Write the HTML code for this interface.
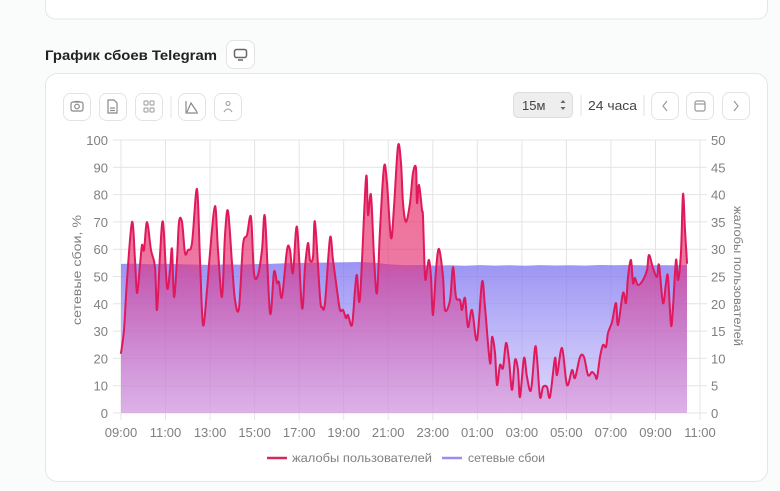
<!DOCTYPE html>
<html><head><meta charset="utf-8"><style>
html,body{margin:0;padding:0;background:#fafbfb;}
svg{display:block;font-family:"Liberation Sans","DejaVu Sans",sans-serif;}
</style></head><body>
<svg id="chart" width="780" height="491" viewBox="0 0 780 491" xmlns="http://www.w3.org/2000/svg">
<defs>
<linearGradient id="gb" x1="0" y1="263" x2="0" y2="413" gradientUnits="userSpaceOnUse">
<stop offset="0" stop-color="rgb(125,115,240)" stop-opacity="0.76"/>
<stop offset="1" stop-color="rgb(200,190,250)" stop-opacity="0.6"/>
</linearGradient>
<linearGradient id="gr" x1="0" y1="140" x2="0" y2="413" gradientUnits="userSpaceOnUse">
<stop offset="0" stop-color="rgb(232,52,100)" stop-opacity="0.72"/>
<stop offset="0.45" stop-color="rgb(228,50,115)" stop-opacity="0.66"/>
<stop offset="0.5" stop-color="rgb(225,45,128)" stop-opacity="0.56"/>
<stop offset="1" stop-color="rgb(215,90,185)" stop-opacity="0.3"/>
</linearGradient>
</defs>
<rect x="0" y="0" width="780" height="491" fill="#fafbfb"/>
<!-- top card remnant -->
<rect x="45.5" y="-30" width="722" height="49" rx="10" fill="#fff" stroke="#e4e6e6"/>
<!-- title -->
<text x="45" y="60" font-size="14" font-weight="bold" fill="#222" textLength="172" lengthAdjust="spacingAndGlyphs">График сбоев Telegram</text>
<rect x="226.5" y="40.5" width="28" height="28" rx="7" fill="#fff" stroke="#e2e4e4"/>
<rect x="234.5" y="49.5" width="12" height="8" rx="2" fill="none" stroke="#666" stroke-width="1.5"/>
<line x1="238" y1="60" x2="243" y2="60" stroke="#666" stroke-width="1.5"/>
<!-- main card -->
<rect x="45.5" y="73.5" width="722" height="408" rx="12" fill="#fff" stroke="#e4e6e6"/>
<!-- toolbar left -->
<g fill="#fff" stroke="#e2e4e4">
<rect x="63.5" y="93.5" width="27" height="27" rx="7"/>
<rect x="99.5" y="93.5" width="27" height="27" rx="7"/>
<rect x="135.5" y="93.5" width="27" height="27" rx="7"/>
<rect x="178.5" y="93.5" width="27" height="27" rx="7"/>
<rect x="214.5" y="93.5" width="27" height="27" rx="7"/>
</g>
<line x1="171" y1="96" x2="171" y2="118" stroke="#e4e4e4"/>
<g fill="none" stroke="#888" stroke-width="1.2">
<rect x="71" y="102" width="12" height="9" rx="2"/><circle cx="77" cy="106.5" r="2.3"/><line x1="74.5" y1="101.5" x2="79.5" y2="101.5"/>
<path d="M108 100 h6 l3 3 v10 h-9 z"/><line x1="110" y1="108" x2="115" y2="108"/><line x1="110" y1="110.5" x2="115" y2="110.5"/>
<rect x="144" y="101" width="4" height="4" rx="1" stroke="#aaa"/><rect x="150" y="101" width="4" height="4" rx="1" stroke="#aaa"/><rect x="144" y="108" width="4" height="4" rx="1" stroke="#aaa"/><rect x="150" y="108" width="4" height="4" rx="1" stroke="#aaa"/>
<path d="M186 101 v12 h12 M187 112 l4 -9 l6 9"/>
<circle cx="228" cy="103.5" r="2" stroke="#aaa"/><path d="M224 112 q4 -6 8 0" stroke="#aaa"/>
</g>
<!-- toolbar right -->
<rect x="513.5" y="92.5" width="59" height="25" rx="5" fill="#eeeeee" stroke="#dcdcdc"/>
<text x="522" y="110" font-size="13" fill="#444">15м</text>
<path d="M560.5 103 l2.5 -3 l2.5 3 z M560.5 107 l2.5 3 l2.5 -3 z" fill="#666"/>
<line x1="581" y1="95" x2="581" y2="116" stroke="#e0e0e0"/>
<text x="588" y="110" font-size="13" fill="#444" textLength="49" lengthAdjust="spacingAndGlyphs">24 часа</text>
<line x1="644" y1="95" x2="644" y2="116" stroke="#e0e0e0"/>
<g fill="#fff" stroke="#e2e4e4">
<rect x="651.5" y="92.5" width="27" height="27" rx="7"/>
<rect x="686.5" y="92.5" width="27" height="27" rx="7"/>
<rect x="722.5" y="92.5" width="27" height="27" rx="7"/>
</g>
<g fill="none" stroke="#999" stroke-width="1.2">
<path d="M667 101 l-4 5 l4 5"/>
<rect x="695" y="101" width="10" height="10" rx="2"/><line x1="695" y1="104" x2="705" y2="104"/>
<path d="M734 101 l4 5 l-4 5"/>
</g>
<!-- grid -->
<g stroke="#e4e4e4" stroke-width="1">
<line x1="113" y1="413" x2="707" y2="413"/>
<line x1="113" y1="385.7" x2="707" y2="385.7"/>
<line x1="113" y1="358.4" x2="707" y2="358.4"/>
<line x1="113" y1="331.1" x2="707" y2="331.1"/>
<line x1="113" y1="303.8" x2="707" y2="303.8"/>
<line x1="113" y1="276.5" x2="707" y2="276.5"/>
<line x1="113" y1="249.2" x2="707" y2="249.2"/>
<line x1="113" y1="221.9" x2="707" y2="221.9"/>
<line x1="113" y1="194.6" x2="707" y2="194.6"/>
<line x1="113" y1="167.3" x2="707" y2="167.3"/>
<line x1="113" y1="140" x2="707" y2="140"/>
<line x1="121" y1="140" x2="121" y2="420"/>
<line x1="165.5" y1="140" x2="165.5" y2="420"/>
<line x1="210.1" y1="140" x2="210.1" y2="420"/>
<line x1="254.6" y1="140" x2="254.6" y2="420"/>
<line x1="299.2" y1="140" x2="299.2" y2="420"/>
<line x1="343.7" y1="140" x2="343.7" y2="420"/>
<line x1="388.2" y1="140" x2="388.2" y2="420"/>
<line x1="432.8" y1="140" x2="432.8" y2="420"/>
<line x1="477.3" y1="140" x2="477.3" y2="420"/>
<line x1="521.9" y1="140" x2="521.9" y2="420"/>
<line x1="566.4" y1="140" x2="566.4" y2="420"/>
<line x1="610.9" y1="140" x2="610.9" y2="420"/>
<line x1="655.5" y1="140" x2="655.5" y2="420"/>
<line x1="700" y1="140" x2="700" y2="420"/>
</g>
<!-- blue area -->
<polygon fill="url(#gb)" stroke="none" points="121,413 121,264 135,263.6 150,264.3 165,263.8 180,264.2 195,264.6 210,264.9 225,264.4 240,264.6 255,264.1 270,263.9 285,263.3 300,263 315,262.8 330,262.5 345,262.2 360,262 375,262.8 390,264.4 405,265.1 420,265 435,265.6 450,265.3 465,265.7 480,265.1 495,265.6 510,265.2 525,265.7 540,265.1 555,265.5 570,265.2 585,265.6 600,265 615,265.3 630,265 645,265.4 660,265.1 675,265.4 687,265 687,413"/>
<!-- red area -->
<polygon id="redArea" fill="url(#gr)" stroke="none" points="121,413 121,353 124,330 127,280 132,222 135,260 137,293 140,265 142,245 144,250 147,222 151,250 155,267 157,310 160,255 163,222 167,287 170,270 172,249 174,297 177,260 179,222 182,222 185,253 188,250 192,243 197,189 200,260 203,325 207,290 210,253 215,206 218,250 222,297 225,235 228,211 232,263 235,300 239,308 243,245 247,235 251,217 254,273 258,275 262,250 265,217 270,313 274,272 277,283 279,282 282,297 287,250 290,250 293,273 297,227 302,308 305,267 308,243 310,260 313,257 315,222 320,297 322,307 325,303 330,238 333,260 337,290 340,310 343,310 346,318 348,315 352,325 355,290 357,275 360,298 366,178 368,215 371,195 374,257 377,293 380,230 384,167 387,183 391,238 394,207 398,146 401,163 403,203 406,222 410,203 413,173 416,168 417,203 419,185 422,210 423,217 425,277 427,270 429,260 431,277 433,315 436,270 439,249 443,277 445,310 450,300 453,267 456,297 460,300 462,310 465,298 468,327 472,310 477,340 482,282 485,307 490,363 492,337 495,353 497,385 500,365 503,368 506,343 509,360 512,390 515,360 518,370 520,397 524,358 527,377 531,390 535,348 537,358 540,397 543,387 547,387 550,397 555,358 557,375 562,348 567,385 572,370 575,378 580,357 584,357 588,375 592,372 595,375 597,378 600,357 603,345 606,347 608,333 612,322 616,303 618,325 623,293 626,303 628,277 631,260 633,283 635,278 638,285 643,280 647,270 649,255 653,268 657,277 659,265 663,303 666,283 668,277 671,325 673,307 676,260 678,280 681,252 683,194 685,230 687,263 687,413"/>
<!-- red line -->
<polyline id="redLine" fill="none" stroke="#e0185c" stroke-width="2" stroke-linejoin="round" stroke-linecap="round" points="121,353 124,330 127,280 132,222 135,260 137,293 140,265 142,245 144,250 147,222 151,250 155,267 157,310 160,255 163,222 167,287 170,270 172,249 174,297 177,260 179,222 182,222 185,253 188,250 192,243 197,189 200,260 203,325 207,290 210,253 215,206 218,250 222,297 225,235 228,211 232,263 235,300 239,308 243,245 247,235 251,217 254,273 258,275 262,250 265,217 270,313 274,272 277,283 279,282 282,297 287,250 290,250 293,273 297,227 302,308 305,267 308,243 310,260 313,257 315,222 320,297 322,307 325,303 330,238 333,260 337,290 340,310 343,310 346,318 348,315 352,325 355,290 357,275 360,298 366,178 368,215 371,195 374,257 377,293 380,230 384,167 387,183 391,238 394,207 398,146 401,163 403,203 406,222 410,203 413,173 416,168 417,203 419,185 422,210 423,217 425,277 427,270 429,260 431,277 433,315 436,270 439,249 443,277 445,310 450,300 453,267 456,297 460,300 462,310 465,298 468,327 472,310 477,340 482,282 485,307 490,363 492,337 495,353 497,385 500,365 503,368 506,343 509,360 512,390 515,360 518,370 520,397 524,358 527,377 531,390 535,348 537,358 540,397 543,387 547,387 550,397 555,358 557,375 562,348 567,385 572,370 575,378 580,357 584,357 588,375 592,372 595,375 597,378 600,357 603,345 606,347 608,333 612,322 616,303 618,325 623,293 626,303 628,277 631,260 633,283 635,278 638,285 643,280 647,270 649,255 653,268 657,277 659,265 663,303 666,283 668,277 671,325 673,307 676,260 678,280 681,252 683,194 685,230 687,263"/>
<!-- left ticks -->
<g font-size="13" fill="#808080" text-anchor="end">
<text x="108" y="418">0</text>
<text x="108" y="390.7">10</text>
<text x="108" y="363.4">20</text>
<text x="108" y="336.1">30</text>
<text x="108" y="308.8">40</text>
<text x="108" y="281.5">50</text>
<text x="108" y="254.2">60</text>
<text x="108" y="226.9">70</text>
<text x="108" y="199.6">80</text>
<text x="108" y="172.3">90</text>
<text x="108" y="145">100</text>
</g>
<g font-size="13" fill="#808080">
<text x="711" y="418">0</text>
<text x="711" y="390.7">5</text>
<text x="711" y="363.4">10</text>
<text x="711" y="336.1">15</text>
<text x="711" y="308.8">20</text>
<text x="711" y="281.5">25</text>
<text x="711" y="254.2">30</text>
<text x="711" y="226.9">35</text>
<text x="711" y="199.6">40</text>
<text x="711" y="172.3">45</text>
<text x="711" y="145">50</text>
</g>
<g font-size="13" fill="#808080" text-anchor="middle">
<text x="121" y="437">09:00</text>
<text x="165.5" y="437">11:00</text>
<text x="210.1" y="437">13:00</text>
<text x="254.6" y="437">15:00</text>
<text x="299.2" y="437">17:00</text>
<text x="343.7" y="437">19:00</text>
<text x="388.2" y="437">21:00</text>
<text x="432.8" y="437">23:00</text>
<text x="477.3" y="437">01:00</text>
<text x="521.9" y="437">03:00</text>
<text x="566.4" y="437">05:00</text>
<text x="610.9" y="437">07:00</text>
<text x="655.5" y="437">09:00</text>
<text x="700" y="437">11:00</text>
</g>
<!-- axis titles -->
<text transform="translate(81,270) rotate(-90)" font-size="12" fill="#808080" text-anchor="middle" textLength="110" lengthAdjust="spacingAndGlyphs">сетевые сбои, %</text>
<text transform="translate(734,276) rotate(90)" font-size="12" fill="#808080" text-anchor="middle" textLength="140" lengthAdjust="spacingAndGlyphs">жалобы пользователей</text>
<!-- legend -->
<line x1="267" y1="458" x2="287" y2="458" stroke="#d42a5e" stroke-width="2.5"/>
<text x="292" y="462" font-size="12" fill="#808080" textLength="140" lengthAdjust="spacingAndGlyphs">жалобы пользователей</text>
<line x1="442" y1="458" x2="462" y2="458" stroke="#9a8cf0" stroke-width="2.5"/>
<text x="468" y="462" font-size="12" fill="#808080" textLength="77" lengthAdjust="spacingAndGlyphs">сетевые сбои</text>
</svg>
<script>
(function(){
  try{
    var NS="http://www.w3.org/2000/svg";
    function parse(s){return s.trim().split(/\s+/).map(function(p){var a=p.split(",");return [parseFloat(a[0]),parseFloat(a[1])];});}
    function smooth(pts){
      var t=0.5/3, d="M"+pts[0][0]+","+pts[0][1];
      for(var i=0;i<pts.length-1;i++){
        var p0=pts[i>0?i-1:0],p1=pts[i],p2=pts[i+1],p3=pts[i+2<pts.length?i+2:i+1];
        var c1x=p1[0]+(p2[0]-p0[0])*t, c1y=p1[1]+(p2[1]-p0[1])*t;
        var c2x=p2[0]-(p3[0]-p1[0])*t, c2y=p2[1]-(p3[1]-p1[1])*t;
        c1y=Math.min(c1y,413);c2y=Math.min(c2y,413);
        d+=" C"+c1x.toFixed(2)+","+c1y.toFixed(2)+" "+c2x.toFixed(2)+","+c2y.toFixed(2)+" "+p2[0]+","+p2[1];
      }
      return d;
    }
    var line=document.getElementById("redLine");
    var pts=parse(line.getAttribute("points"));
    var d=smooth(pts);
    var pl=document.createElementNS(NS,"path");
    pl.setAttribute("d",d);
    ["fill","stroke","stroke-width","stroke-linejoin","stroke-linecap"].forEach(function(a){pl.setAttribute(a,line.getAttribute(a));});
    var area=document.getElementById("redArea");
    var pa=document.createElementNS(NS,"path");
    pa.setAttribute("d","M121,413 L"+pts[0][0]+","+pts[0][1]+d.replace(/^M[^ ]+/,"")+" L687,413 Z");
    pa.setAttribute("fill",area.getAttribute("fill"));
    area.parentNode.replaceChild(pa,area);
    line.parentNode.replaceChild(pl,line);
  }catch(e){}
})();
</script>
</body></html>
